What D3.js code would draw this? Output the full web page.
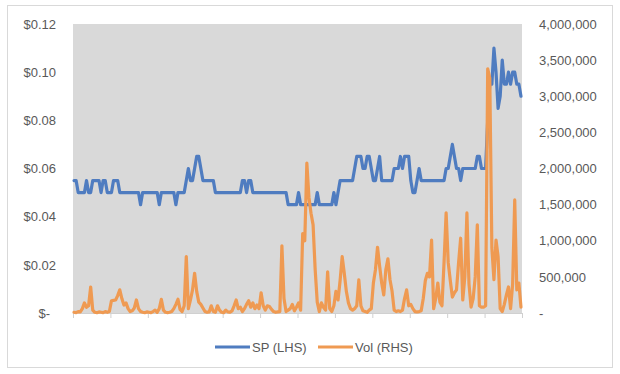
<!DOCTYPE html>
<html>
<head>
<meta charset="utf-8">
<script src="https://cdnjs.cloudflare.com/ajax/libs/d3/7.8.5/d3.min.js"></script>
<style>
  body { margin: 0; background: #fff; }
  text { font-family: "Liberation Sans", Arial, sans-serif; }
</style>
</head>
<body>
<div id="chart"></div>
<script>
// share price (LHS), one value per trading day
var sp = [
  .055,.055,.05,.05,.05,.05,.055,.05,.05,.055,
  .055,.055,.055,.05,.055,.055,.05,.05,.05,.055,
  .055,.055,.05,.05,.05,.05,.05,.05,.05,.05,
  .05,.05,.045,.05,.05,.05,.05,.05,.05,.05,
  .05,.045,.05,.05,.05,.05,.05,.05,.05,.045,
  .05,.05,.05,.05,.055,.06,.055,.055,.06,.065,
  .065,.06,.055,.055,.055,.055,.055,.055,.05,.05,
  .05,.05,.05,.05,.05,.05,.05,.05,.05,.05,
  .05,.055,.055,.05,.055,.055,.05,.05,.05,.05,
  .05,.05,.05,.05,.05,.05,.05,.05,.05,.05,
  .05,.05,.05,.045,.045,.045,.045,.045,.05,.045,
  .045,.045,.045,.045,.045,.045,.045,.05,.045,.045,
  .045,.045,.045,.045,.045,.05,.045,.05,.055,.055,
  .055,.055,.055,.055,.055,.06,.065,.065,.065,.06,
  .06,.065,.065,.06,.055,.055,.06,.065,.055,.055,
  .055,.055,.055,.055,.06,.06,.06,.065,.06,.065,
  .065,.065,.055,.05,.05,.055,.06,.055,.055,.055,
  .055,.055,.055,.055,.055,.055,.055,.055,.055,.06,
  .06,.065,.07,.065,.06,.06,.055,.06,.06,.06,
  .06,.06,.06,.06,.065,.065,.06,.06,.06,.08,
  .095,.095,.11,.1,.085,.09,.105,.095,.095,.1,
  .095,.1,.1,.095,.095,.09
];

// traded volume (RHS)
var vol = [
  10000,5000,20000,15000,60000,140000,80000,100000,360000,40000,
  10000,5000,15000,10000,5000,20000,10000,20000,170000,175000,
  180000,240000,320000,200000,110000,140000,60000,20000,30000,70000,
  180000,60000,20000,10000,5000,15000,10000,5000,20000,40000,
  10000,60000,190000,40000,10000,5000,10000,20000,60000,120000,
  190000,50000,20000,100000,780000,60000,180000,320000,550000,300000,
  150000,120000,70000,20000,10000,15000,100000,20000,10000,100000,
  40000,10000,5000,40000,15000,10000,30000,100000,180000,60000,
  80000,20000,60000,120000,170000,80000,140000,60000,110000,60000,
  280000,100000,40000,100000,90000,50000,20000,10000,15000,20000,
  930000,200000,20000,40000,60000,120000,30000,80000,140000,40000,
  1100000,1000000,2075000,1600000,1380000,1220000,600000,150000,20000,140000,
  80000,40000,570000,60000,20000,100000,300000,180000,450000,780000,
  550000,300000,140000,60000,40000,60000,100000,460000,100000,30000,
  20000,10000,40000,60000,415000,600000,910000,650000,415000,250000,
  600000,750000,460000,300000,40000,20000,30000,20000,40000,200000,
  320000,100000,120000,60000,20000,15000,20000,30000,200000,450000,
  550000,500000,1010000,60000,200000,415000,150000,100000,700000,1385000,
  700000,450000,220000,280000,320000,700000,1035000,180000,500000,1385000,
  400000,80000,200000,500000,1220000,100000,80000,80000,100000,3380000,
  3250000,900000,460000,1010000,780000,60000,20000,120000,250000,360000,
  60000,400000,1565000,320000,415000,80000
];

var leftTicks = [0, 0.02, 0.04, 0.06, 0.08, 0.10, 0.12];
var rightTicks = [0, 500000, 1000000, 1500000, 2000000, 2500000, 3000000, 3500000, 4000000];
var seriesNames = ["SP (LHS)", "Vol (RHS)"];
var colors = ["#4f7cc0", "#ef9a52"];

var W = 620, H = 374;
var plot = {left: 73, right: 522, top: 24, bottom: 313};
var tickEvery = 18;

var svg = d3.select("#chart").append("svg")
    .attr("width", W)
    .attr("height", H);

// outer chart border
svg.append("rect")
    .attr("x", 7.5).attr("y", 5.5)
    .attr("width", 605).attr("height", 362)
    .attr("fill", "#fff")
    .attr("stroke", "#d9d9d9");

// plot area
svg.append("rect")
    .attr("x", plot.left).attr("y", plot.top)
    .attr("width", plot.right - plot.left)
    .attr("height", plot.bottom - plot.top)
    .attr("fill", "#d9d9d9");

var n = sp.length;
var x = d3.scaleLinear().domain([0, n]).range([plot.left, plot.right]);
var yL = d3.scaleLinear().domain([0, 0.12]).range([plot.bottom, plot.top]);
var yR = d3.scaleLinear().domain([0, 4000000]).range([plot.bottom, plot.top]);

// x axis, tick marks only
var xAxis = svg.append("g")
    .attr("transform", "translate(0," + plot.bottom + ")")
    .call(d3.axisBottom(x).tickValues(d3.range(0, n + 1, tickEvery)).tickFormat("").tickSize(5).tickSizeOuter(0));
xAxis.select(".domain").attr("stroke", "#d0d0d0");
xAxis.selectAll(".tick line").attr("stroke", "#d0d0d0");

// left axis
var axL = svg.append("g")
    .attr("transform", "translate(" + plot.left + ",0)")
    .call(d3.axisLeft(yL).tickValues(leftTicks).tickSize(0).tickPadding(17)
        .tickFormat(function(d){ return d === 0 ? "$-" : d3.format("$.2f")(d); }));
axL.select(".domain").remove();
axL.selectAll("text")
    .attr("fill", "#595959")
    .style("font-size", "13px")
    .attr("dx", function(d){ return d === 0 ? -6 : 0; });

// right axis
var axR = svg.append("g")
    .attr("transform", "translate(" + plot.right + ",0)")
    .call(d3.axisRight(yR).tickValues(rightTicks).tickSize(0).tickPadding(17)
        .tickFormat(function(d){ return d === 0 ? "-" : d3.format(",")(d); }));
axR.select(".domain").remove();
axR.selectAll("text")
    .attr("fill", "#595959")
    .style("font-size", "13px");

// lines
var spLine = d3.line()
    .x(function(d, i){ return x(i + 0.5); })
    .y(function(d){ return yL(d); });

var volLine = d3.line()
    .x(function(d, i){ return x(i + 0.5); })
    .y(function(d){ return yR(d); });

svg.append("path")
    .datum(sp)
    .attr("d", spLine)
    .attr("fill", "none")
    .attr("stroke", colors[0])
    .attr("stroke-width", 3.2)
    .attr("stroke-linejoin", "round")
    .attr("stroke-linecap", "round");

svg.append("path")
    .datum(vol)
    .attr("d", volLine)
    .attr("fill", "none")
    .attr("stroke", colors[1])
    .attr("stroke-width", 3.2)
    .attr("stroke-linejoin", "round")
    .attr("stroke-linecap", "round");

// legend
var legendX = [215, 318];
var legend = svg.append("g");
seriesNames.forEach(function(name, k){
    legend.append("line")
        .attr("x1", legendX[k]).attr("x2", legendX[k] + 35)
        .attr("y1", 347).attr("y2", 347)
        .attr("stroke", colors[k])
        .attr("stroke-width", 3.2);
    legend.append("text")
        .attr("x", legendX[k] + 37)
        .attr("y", 347)
        .attr("dy", "0.35em")
        .attr("fill", "#595959")
        .style("font-size", "13px")
        .text(name);
});
</script>
</body>
</html>
